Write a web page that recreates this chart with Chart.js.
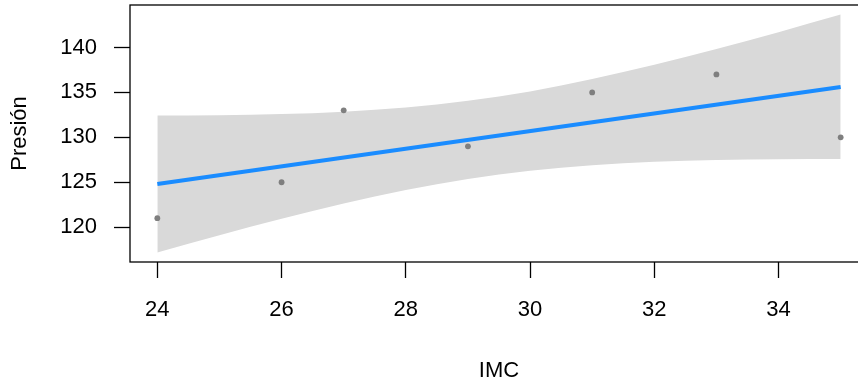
<!DOCTYPE html>
<html>
<head>
<meta charset="utf-8">
<script src="https://cdn.jsdelivr.net/npm/chart.js@4/dist/chart.umd.min.js"></script>
<style>
  html, body { margin: 0; padding: 0; background: #fff; overflow: hidden; }
  #wrap { width: 880px; height: 387px; }
</style>
</head>
<body>
<div id="wrap"><canvas id="c" width="880" height="387"></canvas></div>
<script>
// Observed points: body-mass index vs. blood pressure
const imc = [24, 26, 27, 29, 31, 33, 35];
const presion = [121, 125, 133, 129, 135, 137, 130];

// Fitted regression line at the ends of the data range
const fitX = [24, 35];
const fitY = [124.8, 135.6];

// 95% confidence band of the fit
const bandX    = [24, 25, 26, 27, 28, 29, 30, 31, 32, 33, 34, 35];
const bandLow  = [117.18, 119.10, 120.93, 122.64, 124.14, 125.37, 126.29, 126.90, 127.27, 127.48, 127.57, 127.59];
const bandHigh = [132.42, 132.46, 132.59, 132.86, 133.32, 134.07, 135.11, 136.48, 138.07, 139.84, 141.71, 143.67];

// Axis ticks
const xTicks = [24, 26, 28, 30, 32, 34];
const yTicks = [120, 125, 130, 135, 140];

const pairs = (xs, ys) => xs.map((x, i) => ({ x: x, y: ys[i] }));

const FONT = "'Liberation Sans', Arial, Helvetica, sans-serif";
const AXIS_W = 1.3;

// Frame around the plotting region
const boxPlugin = {
  id: 'box',
  afterDraw(chart) {
    const { ctx, chartArea: a } = chart;
    ctx.save();
    ctx.strokeStyle = '#000';
    ctx.lineWidth = AXIS_W;
    ctx.strokeRect(a.left, a.top, a.right - a.left, a.bottom - a.top);
    ctx.restore();
  }
};

new Chart(document.getElementById('c'), {
  type: 'scatter',
  data: {
    datasets: [
      {
        label: 'Presión',
        data: pairs(imc, presion),
        backgroundColor: '#7f7f7f',
        borderWidth: 0,
        pointRadius: 2.9,
        order: 0
      },
      {
        label: 'Ajuste',
        type: 'line',
        data: pairs(fitX, fitY),
        borderColor: '#1a8cff',
        borderWidth: 4,
        pointRadius: 0,
        fill: false,
        order: 1
      },
      {
        label: 'IC inferior',
        type: 'line',
        data: pairs(bandX, bandLow),
        borderWidth: 0,
        borderColor: 'rgba(0,0,0,0)',
        pointRadius: 0,
        cubicInterpolationMode: 'monotone',
        fill: false,
        order: 3
      },
      {
        label: 'IC superior',
        type: 'line',
        data: pairs(bandX, bandHigh),
        borderWidth: 0,
        borderColor: 'rgba(0,0,0,0)',
        backgroundColor: '#d9d9d9',
        pointRadius: 0,
        cubicInterpolationMode: 'monotone',
        fill: '-1',
        order: 2
      }
    ]
  },
  options: {
    responsive: false,
    animation: false,
    events: [],
    layout: { padding: { top: 5, right: 12, left: 0, bottom: 0 } },
    plugins: { legend: { display: false }, tooltip: { enabled: false } },
    scales: {
      x: {
        type: 'linear',
        min: 23.56,
        max: 35.44,
        afterFit(s) { s.height = 125; s.paddingLeft = 0; s.paddingRight = 0; },
        afterBuildTicks(s) { s.ticks = xTicks.map(v => ({ value: v })); },
        border: { display: false },
        grid: { drawOnChartArea: false, drawTicks: true, tickLength: 16, tickColor: '#000', tickWidth: AXIS_W },
        ticks: {
          autoSkip: false, maxRotation: 0, padding: 19, color: '#000',
          font: { family: FONT, size: 22 }
        },
        title: {
          display: true, text: 'IMC', color: '#000',
          font: { family: FONT, size: 22 },
          padding: { top: 0, bottom: 2.4 }
        }
      },
      y: {
        type: 'linear',
        min: 116.12,
        max: 144.73,
        afterFit(s) { s.width = 130; s.paddingTop = 0; s.paddingBottom = 0; },
        afterBuildTicks(s) { s.ticks = yTicks.map(v => ({ value: v })); },
        border: { display: false },
        grid: { drawOnChartArea: false, drawTicks: true, tickLength: 16, tickColor: '#000', tickWidth: AXIS_W },
        ticks: {
          autoSkip: false, padding: 17, color: '#000',
          font: { family: FONT, size: 22 }
        },
        title: {
          display: true, text: 'Presión', color: '#000',
          font: { family: FONT, size: 22 },
          padding: { top: 7, bottom: 0 }
        }
      }
    }
  },
  plugins: [boxPlugin]
});
</script>
</body>
</html>
